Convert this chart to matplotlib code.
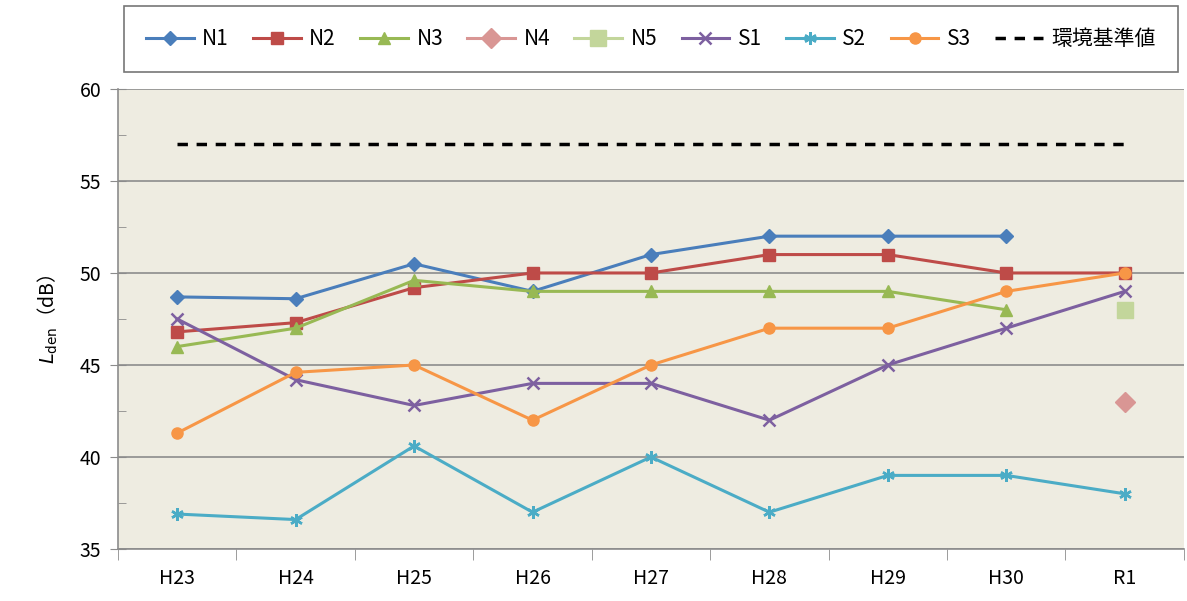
import numpy as np
import matplotlib
matplotlib.use('Agg')
import matplotlib.pyplot as plt
from matplotlib.ticker import MultipleLocator

plt.rcParams['font.family'] = ['Noto Sans CJK JP', 'DejaVu Sans']

years = ['H23', 'H24', 'H25', 'H26', 'H27', 'H28', 'H29', 'H30', 'R1']
nan = np.nan

n1 = [48.7, 48.6, 50.5, 49.0, 51.0, 52.0, 52.0, 52.0, nan]
n2 = [46.8, 47.3, 49.2, 50.0, 50.0, 51.0, 51.0, 50.0, 50.0]
n3 = [46.0, 47.0, 49.6, 49.0, 49.0, 49.0, 49.0, 48.0, nan]
n4 = [nan, nan, nan, nan, nan, nan, nan, nan, 43.0]
n5 = [nan, nan, nan, nan, nan, nan, nan, nan, 48.0]
s1 = [47.5, 44.2, 42.8, 44.0, 44.0, 42.0, 45.0, 47.0, 49.0]
s2 = [36.9, 36.6, 40.6, 37.0, 40.0, 37.0, 39.0, 39.0, 38.0]
s3 = [41.3, 44.6, 45.0, 42.0, 45.0, 47.0, 47.0, 49.0, 50.0]
standard = [57.0] * len(years)

series = [
    ('N1', n1, '#4A7EBB', 'D', 7),
    ('N2', n2, '#BE4B48', 's', 8),
    ('N3', n3, '#98B954', '^', 8),
    ('N4', n4, '#D99694', 'D', 10),
    ('N5', n5, '#C3D69B', 's', 12),
    ('S1', s1, '#7D60A0', 'x', 9),
    ('S2', s2, '#4BACC6', (6, 2, 0), 9),
    ('S3', s3, '#F79646', 'o', 8),
]

fig = plt.figure(figsize=(11.87, 6.01), dpi=100)
ax = fig.add_axes([0.0994, 0.0865, 0.898, 0.7655])
ax.set_facecolor('#EEECE1')

x = np.arange(len(years))
handles = []
for name, vals, color, marker, ms in series:
    h, = ax.plot(x, vals, color=color, lw=2.2, marker=marker, ms=ms,
                 markeredgewidth=1.8 if marker in ('x', (6, 2, 0)) else 1,
                 label=name)
    handles.append(h)
h, = ax.plot(x, standard, color='black', lw=2.5, ls=(0, (3, 2.5)), label='環境基準値')
handles.append(h)

ax.set_xlim(-0.5, len(years) - 0.5)
ax.set_ylim(35, 60)
ax.yaxis.set_major_locator(MultipleLocator(5))
ax.yaxis.set_minor_locator(MultipleLocator(2.5))
ax.grid(axis='y', which='major', color='#8C8C8C', lw=1.2)
ax.set_axisbelow(True)

ax.set_xticks(x)
ax.set_xticklabels(years, fontsize=14)
ax.set_xticks(np.arange(len(years) + 1) - 0.5, minor=True)
ax.tick_params(axis='x', which='major', length=0, pad=14)
ax.tick_params(axis='x', which='minor', length=8, direction='out', color='#8C8C8C')
ax.tick_params(axis='y', which='major', length=12, direction='inout', color='#8C8C8C',
               labelsize=14, pad=6)
ax.tick_params(axis='y', which='minor', length=6, direction='in', color='#8C8C8C')

for side in ('top', 'right'):
    ax.spines[side].set_visible(False)
for side in ('left', 'bottom'):
    ax.spines[side].set_color('#8C8C8C')
    ax.spines[side].set_linewidth(1.2)

ax.set_ylabel(r'$\mathit{L}_{\mathrm{den}}$（dB）', fontsize=14, labelpad=14)

leg = fig.legend(handles=handles, loc='lower left', ncol=9, fontsize=15,
                 bbox_to_anchor=(0.1045, 0.88, 0.8876, 0.112), mode='expand',
                 frameon=True, fancybox=False,
                 handlelength=2.3, columnspacing=0.6, handletextpad=0.4,
                 borderpad=1.05, borderaxespad=0)
leg.get_frame().set_edgecolor('#555555')
leg.get_frame().set_linewidth(1.2)

fig.savefig('out.png', dpi=100)
